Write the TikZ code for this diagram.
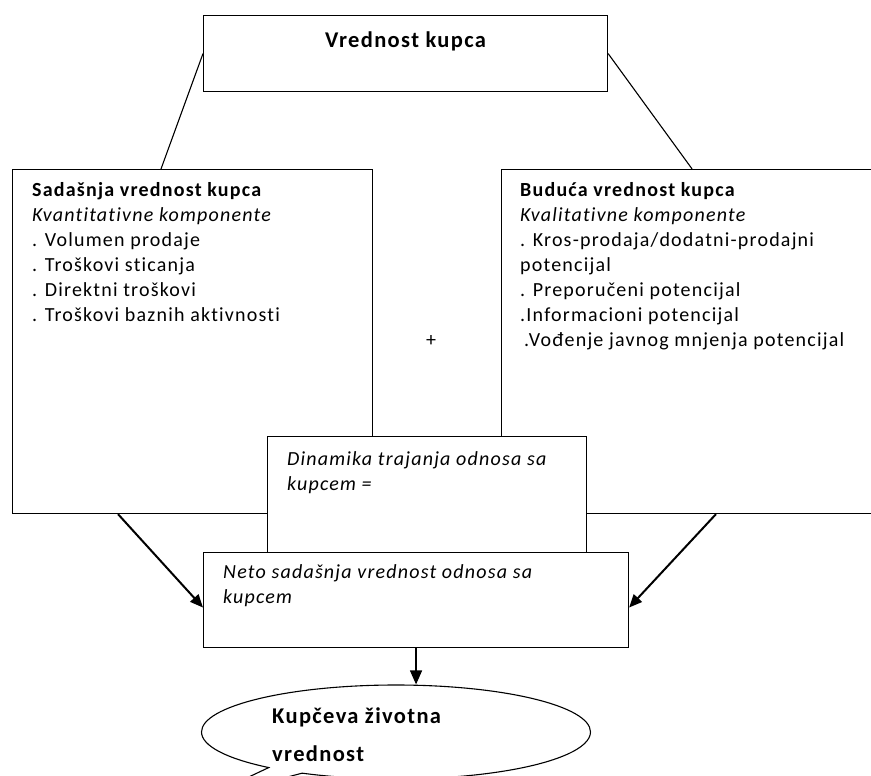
\documentclass[tikz,border=0pt]{standalone}
\usepackage{fontspec}
\setmainfont{Carlito}[LetterSpace=6,Ligatures={NoCommon,NoDiscretionary}]
\usepackage{tkz-euclide}
\usetikzlibrary{shapes.callouts}

\begin{document}
\begin{tikzpicture}[x=1pt,y=-1pt,
  box/.style={draw,line width=1.1pt,fill=white,inner sep=0pt,anchor=north west},
  txt/.style={anchor=north west,align=left,inner sep=0pt,
    font=\fontsize{20}{25}\selectfont},
  ttl/.style={inner sep=0pt,font=\bfseries\fontsize{22.5}{38}\selectfont},
  link/.style={line width=1.1pt},
  arr/.style={line width=2pt,-{Triangle[length=13pt,width=11pt]}}]
\useasboundingbox (0,0) rectangle (871,776);
\clip (0,0) rectangle (871,776);
\tkzDefPoint(203,15){V}
\tkzDefPoint(12,169){S}
\tkzDefPoint(501,169){B}
\tkzDefPoint(267,436){D}
\tkzDefPoint(203,552){N}
\tkzDefPoint(396,732){K}
\tkzDefPoint(200,800){P}
% boxes
\node[box,minimum width=404,minimum height=76] (vred) at (V) {};
\node[box,minimum width=360,minimum height=344] (sad) at (S) {};
\node[box,minimum width=400,minimum height=344] (bud) at (B) {};
\node[box,minimum width=319,minimum height=116] (din) at (D) {};
\node[box,minimum width=425,minimum height=95] (neto) at (N) {};
\node[ellipse callout,draw,line width=1.1pt,inner sep=0pt,
  minimum width=389,minimum height=94,callout pointer arc=12,
  callout absolute pointer={(P)}] (kup) at (K) {};
% texts
\node[ttl,anchor=base] (vredtxt) at ([yshift=6pt]vred.center) {Vrednost kupca};
\node[txt] (sadtxt) at ([shift={(20,13)}]S) {\textbf{Sadašnja vrednost kupca}\\
  \textit{Kvantitativne komponente}\\. Volumen prodaje\\. Troškovi sticanja\\
  . Direktni troškovi\\. Troškovi baznih aktivnosti};
\node[txt] (budtxt) at ([shift={(19,13)}]B) {\textbf{Budu\'ca vrednost kupca}\\
  \textit{Kvalitativne komponente}\\. Kros-prodaja/dodatni-prodajni\\potencijal\\
  . Preporučeni potencijal\\.Informacioni potencijal\\
  \hspace{4pt}.Vođenje javnog mnjenja potencijal};
\node[txt] (plus) at (426,335) {+};
\node[txt] (dintxt) at ([shift={(20,15)}]D) {\textit{Dinamika trajanja odnosa sa}\\
  \textit{kupcem =}};
\node[txt] (netotxt) at ([shift={(20,12)}]N) {\textit{Neto sadašnja vrednost odnosa sa}\\
  \textit{kupcem}};
\node[ttl,anchor=north west,align=left] (kuptxt) at (272,708) {Kupčeva životna\\vrednost};
% connectors
\draw[link] (vred.west) -- ([xshift=-42pt]sad.north -| vred.west);
\draw[link] (vred.east) -- ([xshift=84pt]bud.north -| vred.east);
\draw[arr] ([xshift=106pt]sad.south west) -- ([yshift=-7.5pt]neto.west);
\draw[arr] ([xshift=215pt]bud.south west) -- ([yshift=-7.5pt]neto.east);
\draw[line width=1.3pt,-{Triangle[length=14pt,width=12pt]}]
  (neto.south) -- (neto.south |- kup.north);
\end{tikzpicture}
\end{document}
